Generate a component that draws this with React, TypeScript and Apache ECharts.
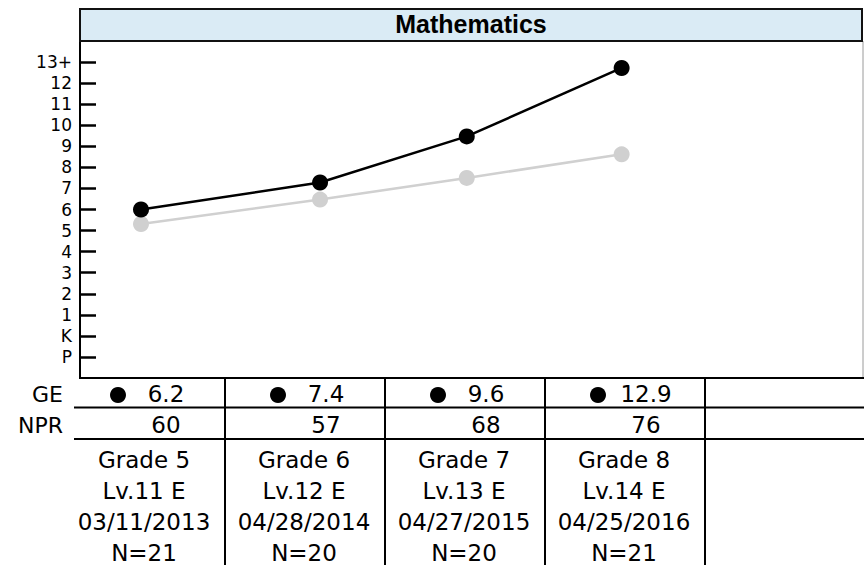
import React, { useEffect, useRef } from "react";
import * as echarts from "echarts";

// ---- data ----
const title = "Mathematics";
const yTickValues = [-1, 0, 1, 2, 3, 4, 5, 6, 7, 8, 9, 10, 11, 12, 13];
const yTickLabels = ["P", "K", "1", "2", "3", "4", "5", "6", "7", "8", "9", "10", "11", "12", "13+"];
const grades = ["Grade 5", "Grade 6", "Grade 7", "Grade 8"];
const levels = ["Lv.11 E", "Lv.12 E", "Lv.13 E", "Lv.14 E"];
const testDates = ["03/11/2013", "04/28/2014", "04/27/2015", "04/25/2016"];
const counts = ["N=21", "N=20", "N=20", "N=21"];
const geValues = ["6.2", "7.4", "9.6", "12.9"];
const nprValues = ["60", "57", "68", "76"];
// horizontal position of each test, in table-column units (column k centred on k)
const testPositions = [0.975, 2.094, 3.011, 3.979];
// plotted values on the grade scale (P=-1, K=0, 1..12, 13+=13)
const studentScores = [6.0, 7.28, 9.47, 12.72];
const referenceScores = [5.31, 6.47, 7.5, 8.62];

// ---- layout ----
const W = 864;
const H = 565;
const GRID_LEFT = 80;
const GRID_RIGHT = 863;
const GRID_TOP = 41;
const GRID_BOTTOM = 378;
const COL_W = 160;
const FIRST_CENTER = 145;
const colCenters = grades.map((_, i) => FIRST_CENTER + i * COL_W);
const colLines = [225, 385, 545, 705];
const FONT = '"DejaVu Sans", Verdana, sans-serif';

export default function App() {
  const ref = useRef<HTMLDivElement>(null);
  useEffect(() => {
    if (!ref.current) return;
    const chart = echarts.init(ref.current, undefined, { renderer: "svg" });
    const xMin = 1 + (GRID_LEFT - FIRST_CENTER) / COL_W;
    const xMax = 1 + (GRID_RIGHT - FIRST_CENTER) / COL_W;

    const txt = (text: string, x: number, y: number, align = "center", size = 23) => ({
      type: "text",
      z: 100,
      style: {
        text,
        x,
        y,
        textAlign: align,
        textVerticalAlign: "middle",
        font: `${size}px ${FONT}`,
        fill: "#000",
      },
    });
    const hline = (x1: number, x2: number, y: number) => ({
      type: "line",
      z: 100,
      shape: { x1, y1: y, x2, y2: y },
      style: { stroke: "#000", lineWidth: 2 },
    });
    const vline = (x: number, y1: number, y2: number) => ({
      type: "line",
      z: 100,
      shape: { x1: x, y1, x2: x, y2 },
      style: { stroke: "#000", lineWidth: 2 },
    });

    const graphics: any[] = [
      {
        type: "rect",
        z: 100,
        shape: { x: 80, y: 9, width: 782, height: 32 },
        style: { fill: "#daebf5", stroke: "#111", lineWidth: 2 },
      },
      {
        type: "text",
        z: 101,
        style: {
          text: title,
          x: (80 + 862) / 2,
          y: 24,
          textAlign: "center",
          textVerticalAlign: "middle",
          font: 'bold 25px "Liberation Sans", Arial, sans-serif',
          fill: "#000",
        },
      },
      hline(GRID_LEFT - 1, W, GRID_BOTTOM),
      hline(74, W, 407.5),
      hline(74, W, 439),
      ...colLines.map((x) => vline(x, GRID_BOTTOM - 1, H)),
      txt("GE", 63, 394, "right", 22),
      txt("NPR", 63, 425, "right", 22),
    ];
    colCenters.forEach((cx, i) => {
      graphics.push({
        type: "circle",
        z: 100,
        shape: { cx: cx - 27, cy: 395, r: 8 },
        style: { fill: "#000" },
      });
      graphics.push(txt(geValues[i], cx + 21, 394));
      graphics.push(txt(nprValues[i], cx + 21, 425));
      graphics.push(txt(grades[i], cx - 1, 460));
      graphics.push(txt(levels[i], cx - 1, 491));
      graphics.push(txt(testDates[i], cx - 1, 522));
      graphics.push(txt(counts[i], cx - 1, 553));
    });

    chart.setOption({
      animation: false,
      grid: {
        left: GRID_LEFT,
        top: GRID_TOP,
        width: GRID_RIGHT - GRID_LEFT,
        height: GRID_BOTTOM - GRID_TOP,
        show: true,
        backgroundColor: "#fff",
        borderColor: "#9a9a9a",
        borderWidth: 1,
      },
      xAxis: {
        type: "value",
        min: xMin,
        max: xMax,
        show: false,
        splitLine: { show: false },
      },
      yAxis: {
        type: "value",
        min: -2,
        max: 14,
        interval: 1,
        axisLine: { show: true, lineStyle: { color: "#000", width: 2 } },
        axisTick: {
          show: true,
          inside: true,
          length: 16,
          customValues: yTickValues,
          lineStyle: { color: "#000", width: 2.5 },
        },
        axisLabel: {
          customValues: yTickValues,
          margin: 8,
          color: "#000",
          fontSize: 17,
          fontFamily: FONT,
          formatter: (v: number) => {
            const i = yTickValues.indexOf(Math.round(v));
            return i >= 0 && Math.abs(v - Math.round(v)) < 1e-6 ? yTickLabels[i] : "";
          },
        },
        splitLine: { show: false },
      },
      series: [
        {
          type: "line",
          data: testPositions.map((x, i) => [x, referenceScores[i]]),
          symbol: "circle",
          symbolSize: 16,
          itemStyle: { color: "#d0d0d0" },
          lineStyle: { color: "#d0d0d0", width: 2.5 },
          z: 2,
        },
        {
          type: "line",
          data: testPositions.map((x, i) => [x, studentScores[i]]),
          symbol: "circle",
          symbolSize: 16,
          itemStyle: { color: "#000" },
          lineStyle: { color: "#000", width: 2.5 },
          z: 3,
        },
      ],
      graphic: graphics,
    });
    return () => chart.dispose();
  }, []);
  return (
    <div
      ref={ref}
      style={{ position: "absolute", left: 0, top: 0, width: W, height: H, background: "#fff" }}
    />
  );
}
